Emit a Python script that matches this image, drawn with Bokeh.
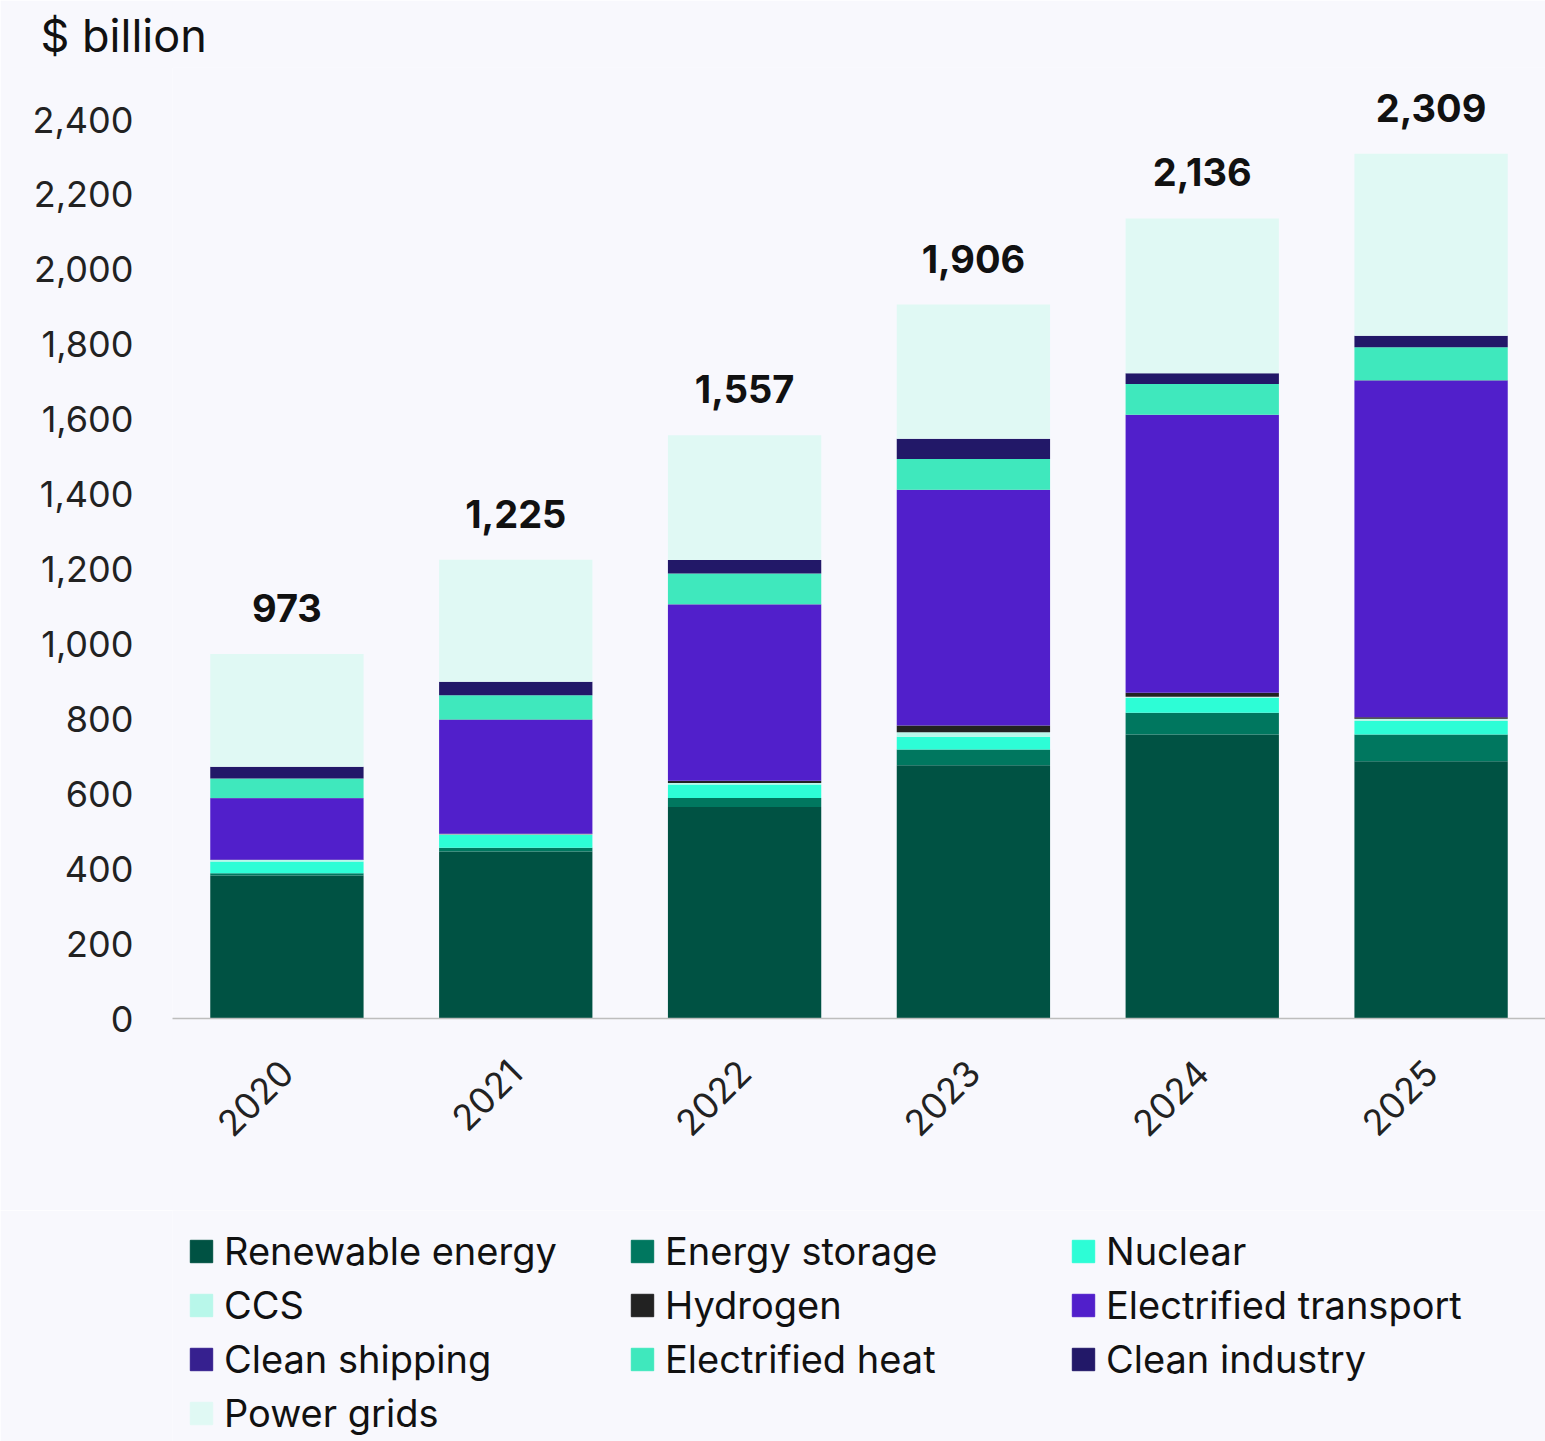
from bokeh.plotting import figure
from bokeh.layouts import column
from bokeh.models import (ColumnDataSource, Range1d, FixedTicker, NumeralTickFormatter,
                          Legend, LegendItem)
from bokeh.core.properties import value
from bokeh.embed import file_html
from bokeh.resources import INLINE

years = ["2020", "2021", "2022", "2023", "2024", "2025"]
totals = [973, 1225, 1557, 1906, 2136, 2309]

renewable = [382, 446, 565, 676, 758, 687]
storage = [6, 10, 24, 42, 58, 71]
nuclear = [31, 34, 36, 34, 40, 36]
ccs = [4, 2, 4, 12, 3, 6]
hydrogen = [1, 1, 6, 18, 11, 4]
transport = [164, 304, 470, 629, 741, 899]
shipping = [1, 1, 1, 1, 1, 1]
heat = [52, 65, 82, 82, 82, 88]
industry = [31, 36, 36, 54, 29, 31]
grids = [301, 326, 333, 358, 413, 486]

series_names = ["Renewable energy", "Energy storage", "Nuclear", "CCS", "Hydrogen",
                "Electrified transport", "Clean shipping", "Electrified heat",
                "Clean industry", "Power grids"]
series_values = [renewable, storage, nuclear, ccs, hydrogen, transport, shipping,
                 heat, industry, grids]
colors = ["#005243", "#00775F", "#2DFDD6", "#B8F7EA", "#222222", "#511FCB",
          "#36208F", "#3FE8BD", "#221868", "#E0F9F4"]

y_ticks = [0, 200, 400, 600, 800, 1000, 1200, 1400, 1600, 1800, 2000, 2200, 2400]

FONT = "Inter"
BG = "#F8F8FD"
W = 1545
H_MAIN = 1210
H_LEG = 231

keys = ["s%d" % i for i in range(len(series_names))]
data = {"year": years}
for k, v in zip(keys, series_values):
    data[k] = v
source = ColumnDataSource(data)

p = figure(x_range=years, y_range=Range1d(0, 2539), width=W, height=H_MAIN,
           output_backend="svg", toolbar_location=None,
           min_border_left=172, min_border_right=0, min_border_top=0,
           min_border_bottom=H_MAIN - 1018, title="$ billion")
p.background_fill_color = BG
p.border_fill_color = BG
p.outline_line_color = None
p.grid.grid_line_color = None

p.title.text_font = FONT
p.title.text_font_size = "45px"
p.title.text_font_style = "normal"
p.title.text_color = "#111111"
p.title.offset = -132
p.title.standoff = 10

renderers = p.vbar_stack(keys, x="year", width=0.67, color=colors, source=source,
                         line_color=None)

# totals
tot_src = ColumnDataSource(dict(year=years, total=totals,
                                label=["{:,}".format(t) for t in totals]))
p.text(x="year", y="total", text="label", source=tot_src, text_align="center",
       text_baseline="bottom", y_offset=-32, text_font=value(FONT),
       text_font_style="bold", text_font_size="38px", text_color="#111111")

# axes
p.yaxis.ticker = FixedTicker(ticks=y_ticks)
p.yaxis.formatter = NumeralTickFormatter(format="0,0")
p.yaxis.axis_line_color = None
p.yaxis.major_tick_line_color = None
p.yaxis.minor_tick_line_color = None
p.yaxis.major_tick_out = 0
p.yaxis.major_label_standoff = 39
p.yaxis.major_label_text_font = FONT
p.yaxis.major_label_text_font_size = "36px"
p.yaxis.major_label_text_color = "#222222"

p.xaxis.axis_line_color = "#BDBDBD"
p.xaxis.axis_line_width = 1.5
p.xaxis.major_tick_line_color = None
p.xaxis.minor_tick_line_color = None
p.xaxis.major_tick_out = 0
p.xaxis.major_label_orientation = 0.785398
p.xaxis.major_label_standoff = 48
p.xaxis.major_label_text_font = FONT
p.xaxis.major_label_text_font_size = "36px"
p.xaxis.major_label_text_color = "#222222"

# legend figure (frame aligned with the chart frame by the column layout)
q = figure(width=W, height=H_LEG, x_range=Range1d(0, 1), y_range=Range1d(0, 1),
           x_axis_type=None, y_axis_type=None, output_backend="svg",
           toolbar_location=None, min_border=0)
q.background_fill_color = BG
q.border_fill_color = BG
q.outline_line_color = None
q.grid.grid_line_color = None

nan = float("nan")
swatches = [q.rect(x=[nan], y=[nan], width=1, height=1, color=c) for c in colors]

cols = [[0, 3, 6, 9], [1, 4, 7], [2, 5, 8]]
xs = [15, 456, 897]
item_h = 46
gap = 8
top = 18
for col, x in zip(cols, xs):
    items = [LegendItem(label=series_names[i], renderers=[swatches[i]]) for i in col]
    n = len(col)
    h = n * item_h + (n - 1) * gap
    leg = Legend(items=items, location=(x, H_LEG - (top + h)), orientation="vertical",
                 padding=0, margin=0, spacing=gap, glyph_width=28, glyph_height=28,
                 label_height=item_h, label_standoff=9,
                 label_text_font=FONT, label_text_font_size="38px",
                 label_text_color="#111111", border_line_color=None,
                 background_fill_alpha=0)
    q.add_layout(leg, "center")

layout = column(p, q, spacing=0)
open("out.html", "w").write(file_html(layout, INLINE))
